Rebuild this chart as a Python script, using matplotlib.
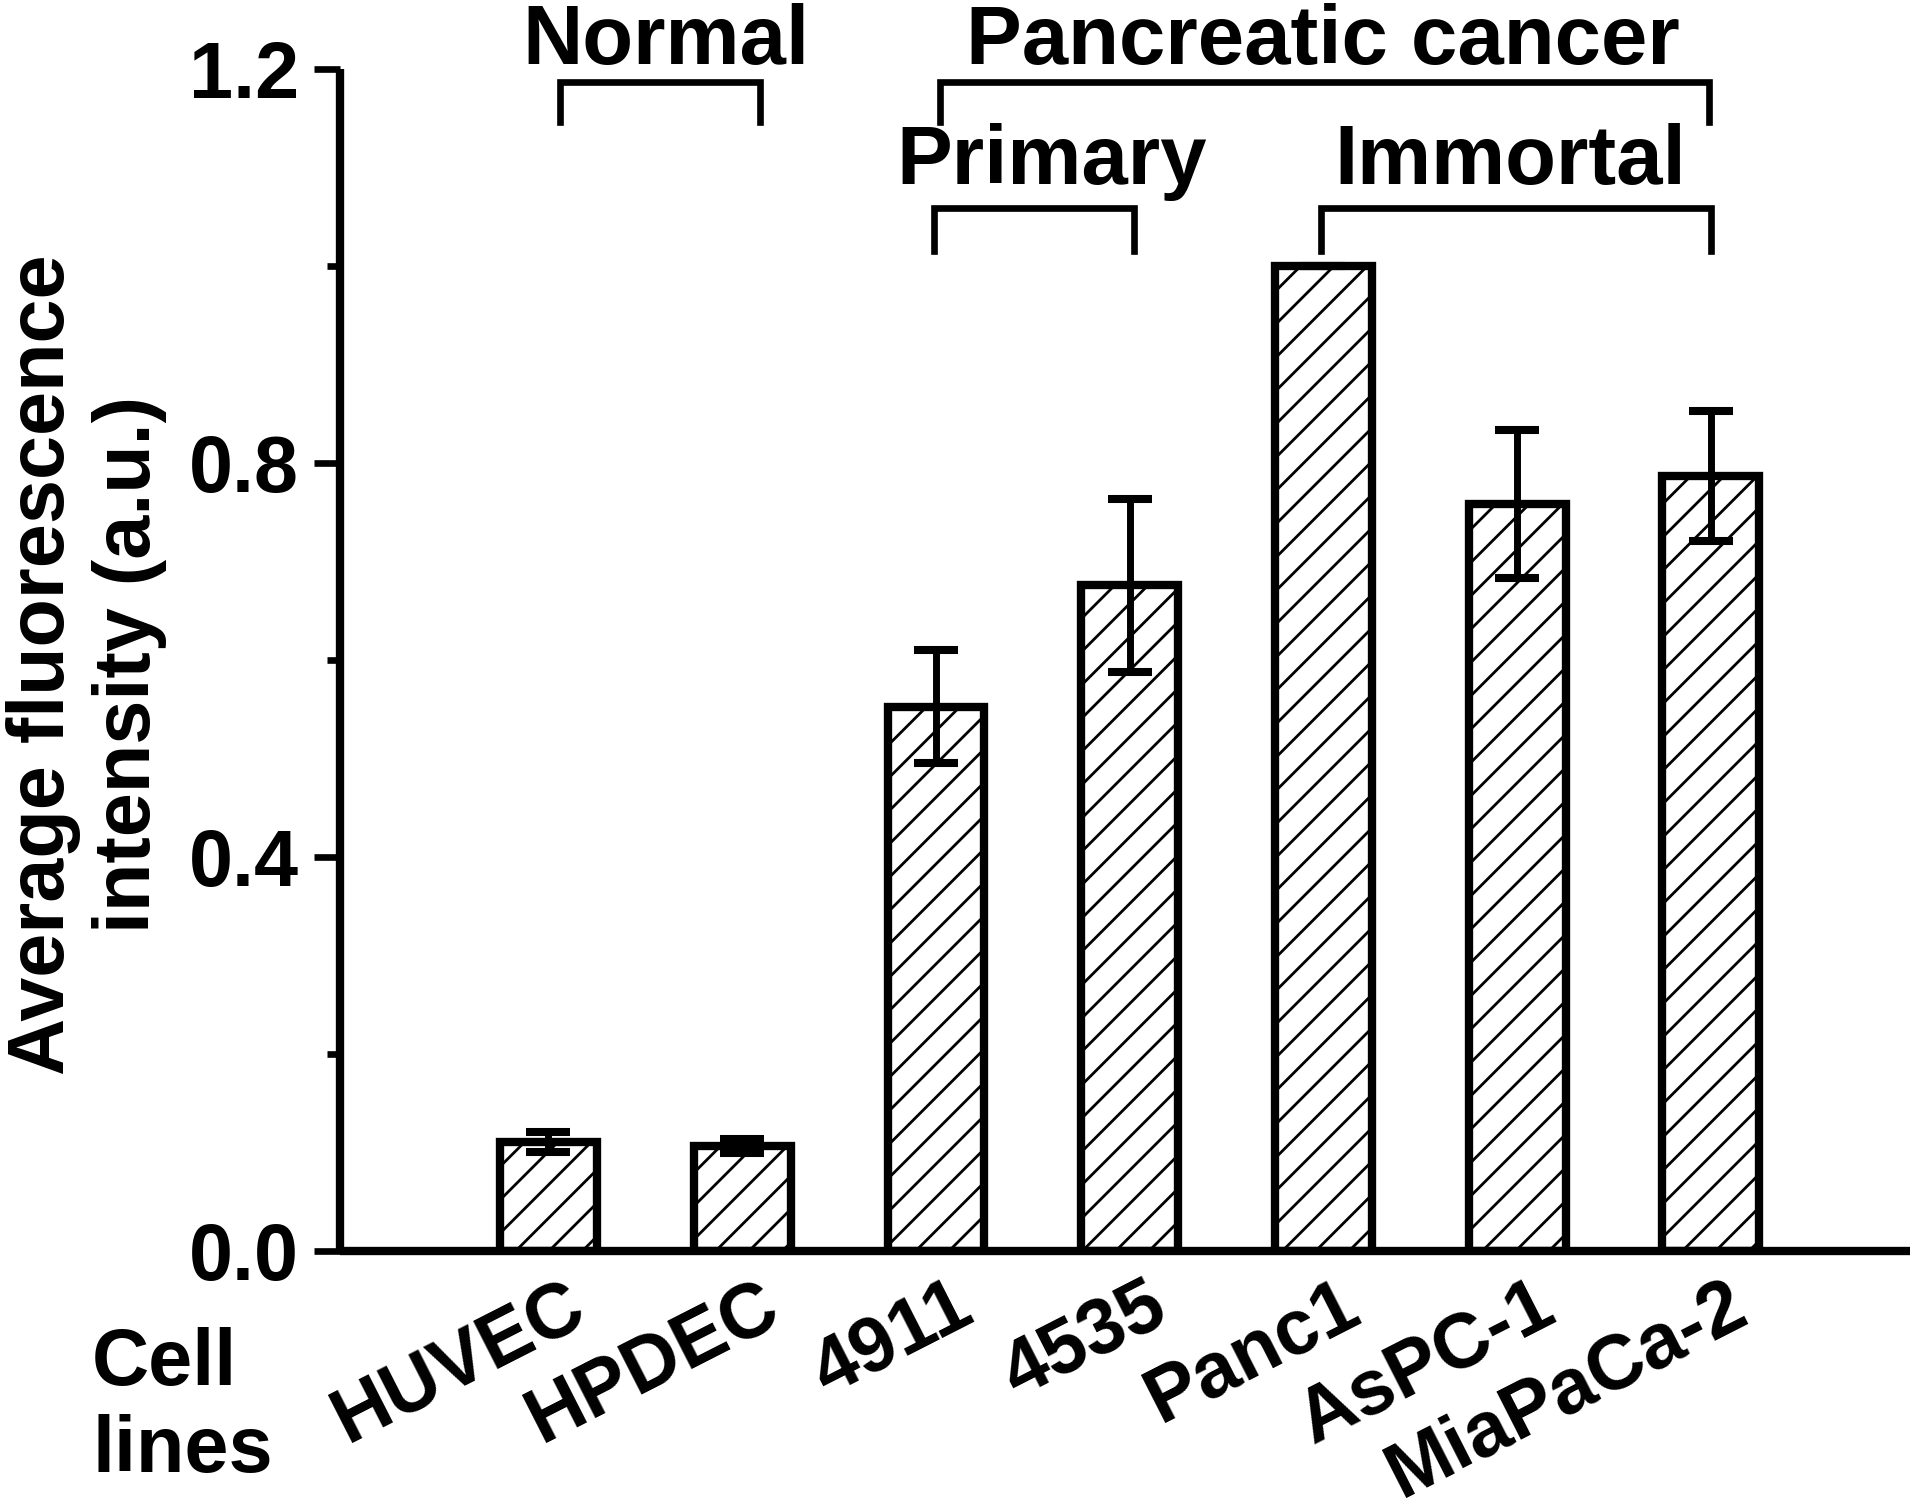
import matplotlib
matplotlib.use("Agg")
import matplotlib.pyplot as plt
import matplotlib.transforms as mtransforms
from matplotlib.ticker import MultipleLocator

# ---------------- data ----------------
cell_lines = ["HUVEC", "HPDEC", "4911", "4535", "Panc1", "AsPC-1", "MiaPaCa-2"]
intensity = [0.111, 0.107, 0.553, 0.676, 1.000, 0.759, 0.787]
error = [0.010, 0.007, 0.057, 0.088, 0.000, 0.075, 0.066]
y_ticks = [0.0, 0.4, 0.8, 1.2]
y_tick_labels = ["0.0", "0.4", "0.8", "1.2"]
group_names = ["Normal", "Pancreatic cancer", "Primary", "Immortal"]
group_first = [0, 2, 2, 4]
group_last = [1, 6, 3, 6]
group_level = [0, 0, 1, 1]
y_title = "Average fluorescence\nintensity (a.u.)"
x_title = "Cell\nlines"

# ---------------- style ----------------
plt.rcParams["font.family"] = ["Liberation Sans", "DejaVu Sans"]
plt.rcParams["font.weight"] = "bold"
plt.rcParams["hatch.linewidth"] = 1.0
FS = 28.5
FS_XT = 28
FS_GROUP = 30

fig = plt.figure(figsize=(9.6, 7.55), dpi=200)
ax = fig.add_axes([0.177, 0.1715, 0.818, 0.7825])

x = list(range(len(cell_lines)))
ax.bar(x, intensity, width=0.5, color="white", edgecolor="black",
       linewidth=3.0, hatch="//", zorder=2)
ax.errorbar(x, intensity, yerr=error, fmt="none", ecolor="black",
            elinewidth=2.5, capsize=8, capthick=2.9, zorder=3)

ax.set_xlim(-1.077, 7.03)
ax.set_ylim(0, 1.2)
ax.set_yticks(y_ticks)
ax.set_yticklabels(y_tick_labels, fontsize=FS, fontweight="bold")
ax.yaxis.set_minor_locator(MultipleLocator(0.2))
ax.tick_params(axis="y", which="major", length=9.4, width=2.4, pad=5.4,
               direction="out")
ax.tick_params(axis="y", which="minor", length=4.7, width=2.4,
               direction="out")

ax.set_xticks(x)
ax.set_xticklabels(cell_lines, fontsize=FS_XT, fontweight="bold", rotation=27,
                   ha="right", va="center", rotation_mode="anchor")
ax.tick_params(axis="x", length=0, pad=18)
offset = mtransforms.ScaledTranslation(0.16, 0, fig.dpi_scale_trans)
for lab in ax.get_xticklabels():
    lab.set_transform(lab.get_transform() + offset)

for side in ["top", "right"]:
    ax.spines[side].set_visible(False)
for side in ["left", "bottom"]:
    ax.spines[side].set_linewidth(3.0)
    ax.spines[side].set_capstyle("butt")

# ---------------- group brackets (layout) ----------------
bracket_y = {0: 1.187, 1: 1.059}
tick_drop = {0: 0.04, 1: 0.043}
text_y = {0: 1.206, 1: 1.084}
pad_left = [0.06, 0.02, -0.01, -0.01]
pad_right = [0.09, -0.01, 0.02, 0.0]
text_shift = [0.03, -0.01, 0.09, -0.03]
for i, (name, a, b, lev) in enumerate(zip(group_names, group_first,
                                          group_last, group_level)):
    x0, x1 = a + pad_left[i], b + pad_right[i]
    yb = bracket_y[lev]
    ax.plot([x0, x0, x1, x1], [yb - tick_drop[lev], yb, yb, yb - tick_drop[lev]],
            color="black", lw=2.4, clip_on=False, solid_joinstyle="miter",
            zorder=4)
    ax.text((x0 + x1) / 2 + text_shift[i], text_y[lev], name, ha="center",
            va="baseline", fontsize=FS_GROUP, fontweight="bold", clip_on=False)

# ---------------- axis titles ----------------
fig.text(0.045, 0.56, y_title, rotation=90, ha="center", va="center",
         fontsize=FS, fontweight="bold", multialignment="center",
         linespacing=1.2)
fig.text(0.048, 0.0252, x_title, ha="left", va="baseline", fontsize=FS,
         fontweight="bold", linespacing=1.2)

fig.savefig("out.png", dpi=200)
